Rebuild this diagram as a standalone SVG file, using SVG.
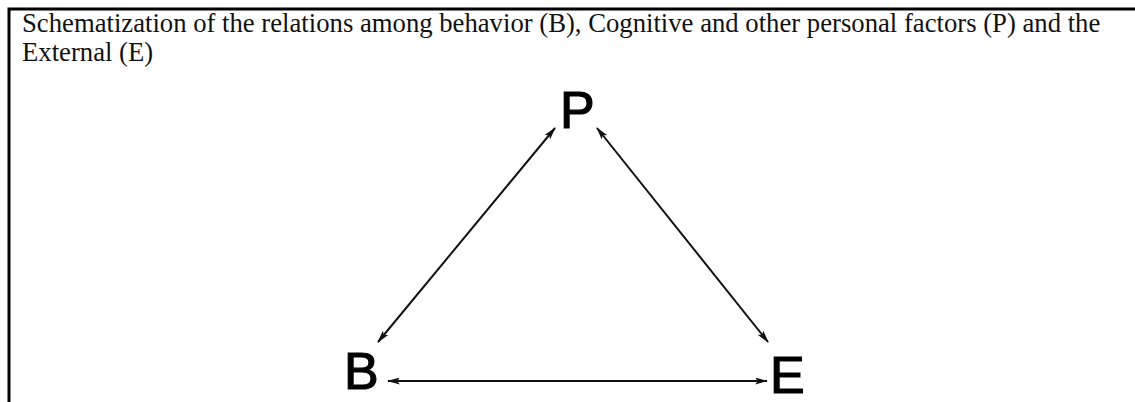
<svg xmlns="http://www.w3.org/2000/svg" width="1135" height="402" viewBox="0 0 1135 402">
  <style>
    .cap { font-family: "Liberation Serif", "Times New Roman", serif; font-size: 26.7px; fill: #111; }
    .lbl { font-family: "Liberation Sans", Arial, sans-serif; font-size: 52px; fill: #000; stroke: #000; stroke-width: 1.2; }
    .conn { stroke: #111; stroke-width: 2; fill: none; marker-start: url(#ah); marker-end: url(#ah); }
    .frame { stroke: #000; stroke-width: 3; fill: none; }
  </style>
  <defs>
    <marker id="ah" viewBox="0 0 13 7" refX="12" refY="3.5" markerWidth="13" markerHeight="7" markerUnits="userSpaceOnUse" orient="auto-start-reverse">
      <path d="M0,0 L13,3.5 L0,7 L3,3.5 Z" fill="#111"/>
    </marker>
  </defs>
  <rect width="1135" height="402" fill="#fff"/>
  <g id="frame">
    <path class="frame" d="M9,402 L9,9 L1135,9"/>
  </g>
  <g id="caption">
    <text class="cap" x="22" y="32">Schematization of the relations among behavior (B), Cognitive and other personal factors (P) and the</text>
    <text class="cap" x="22" y="61">External (E)</text>
  </g>
  <g id="connectors">
    <line class="conn" x1="378" y1="342" x2="555" y2="128"/>
    <line class="conn" x1="597" y1="128" x2="768" y2="342"/>
    <line class="conn" x1="388" y1="381" x2="767" y2="381"/>
  </g>
  <g id="node-P">
    <text class="lbl" x="560" y="128">P</text>
  </g>
  <g id="node-B">
    <text class="lbl" x="344" y="389">B</text>
  </g>
  <g id="node-E">
    <text class="lbl" x="770" y="393">E</text>
  </g>
</svg>
